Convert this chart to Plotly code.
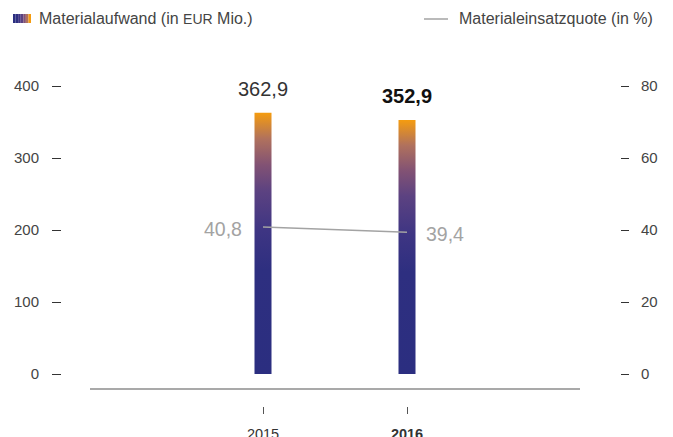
import plotly.graph_objects as go

years = ["2015", "2016"]
tick_labels = ["2015", "<b>2016</b>"]
aufwand = [362.9, 352.9]
quote = [40.8, 39.4]
aufwand_labels = ["362,9", "<b>352,9</b>"]
quote_labels = ["40,8", "39,4"]
left_ticks = [0, 100, 200, 300, 400]
right_ticks = [0, 20, 40, 60, 80]

W, H = 673, 437
OFF = 8  # page body margin


def SX(x):
    return (x - OFF) / W


def SY(y):
    return 1 - (y - OFF) / H


FONT = "Liberation Sans, Arial, sans-serif"
TXT = "#444444"
GRAY = "#a3a3a3"
grad = [[0, "#2b2e80"], [0.4, "#2e2f80"], [0.55, "#3e3583"], [0.7, "#5c4281"],
        [0.8, "#825274"], [0.9, "#b0715d"], [1, "#f59c0f"]]

half = 0.059
fig = go.Figure()
for i, v in enumerate(aufwand):
    fig.add_trace(go.Scatter(
        x=[i - half, i + half, i + half, i - half, i - half],
        y=[0, 0, v, v, 0],
        mode="lines", line=dict(width=0), fill="toself",
        fillgradient=dict(type="vertical", colorscale=grad, start=0, stop=v),
        hoverinfo="skip", showlegend=False, xaxis="x", yaxis="y"))

fig.add_trace(go.Scatter(x=list(range(len(years))), y=quote, mode="lines",
                         line=dict(color=GRAY, width=1.5), yaxis="y2",
                         showlegend=False, hoverinfo="skip"))

ann = []
for i, (v, t) in enumerate(zip(aufwand, aufwand_labels)):
    ann.append(dict(x=i, y=v, xref="x", yref="y", text=t, showarrow=False,
                    yshift=24, font=dict(size=20, color="#111111" if i else "#333333", family=FONT)))
ann.append(dict(x=0, y=quote[0], xref="x", yref="y2", text=quote_labels[0], showarrow=False,
                xanchor="right", xshift=-19, yshift=-2, font=dict(size=19.5, color=GRAY, family=FONT)))
ann.append(dict(x=1, y=quote[1], xref="x", yref="y2", text=quote_labels[1], showarrow=False,
                xanchor="left", xshift=17, yshift=-2, font=dict(size=19.5, color=GRAY, family=FONT)))
# legend texts
ann.append(dict(x=SX(37), y=SY(18), xref="paper", yref="paper", xanchor="left", yanchor="middle",
                text="Materialaufwand (in <span style='font-size:14px'>EUR</span> Mio.)", showarrow=False,
                font=dict(size=16, color=TXT, family=FONT)))
ann.append(dict(x=SX(457), y=SY(18), xref="paper", yref="paper", xanchor="left", yanchor="middle",
                text="Materialeinsatzquote (in %)", showarrow=False,
                font=dict(size=16, color=TXT, family=FONT)))

shapes = []
# legend swatch (horizontal gradient)
sw_cols = ["#2b2e80", "#2e2f80", "#3e3583", "#5c4281", "#825274", "#b0715d", "#f59c0f"]
x0, x1 = 13, 31
n = len(sw_cols)
for k, c in enumerate(sw_cols):
    a = x0 + (x1 - x0) * k / n
    b = x0 + (x1 - x0) * (k + 1) / n
    shapes.append(dict(type="rect", xref="paper", yref="paper", x0=SX(a), x1=SX(b),
                       y0=SY(23), y1=SY(14), fillcolor=c, line=dict(width=0)))
shapes.append(dict(type="line", xref="paper", yref="paper", x0=SX(424), x1=SX(448),
                   y0=SY(19), y1=SY(19), line=dict(color=GRAY, width=1.5)))
# baseline
shapes.append(dict(type="line", xref="paper", yref="paper", x0=SX(90), x1=SX(580),
                   y0=SY(389), y1=SY(389), line=dict(color="#555555", width=1.2)))

ydom = [SY(388.4), SY(86)]
fig.update_layout(
    width=W, height=H, template="none",
    margin=dict(l=0, r=0, t=0, b=0),
    paper_bgcolor="white", plot_bgcolor="white",
    showlegend=False,
    font=dict(family=FONT, color=TXT),
    xaxis=dict(domain=[SX(90), SX(580)], range=[-1.2014, 2.2014], anchor="free",
               position=SY(406), tickvals=list(range(len(years))), ticktext=tick_labels,
               ticks="outside", ticklen=7, tickcolor="#555555", tickwidth=1,
               showline=False, showgrid=False, zeroline=False, automargin=False,
               tickfont=dict(size=14.5, color="#333333"), ticklabelstandoff=8),
    yaxis=dict(domain=ydom, range=[-20, 400], anchor="free", position=SX(61), side="left",
               tickvals=left_ticks, ticks="outside", ticklen=9, tickcolor="#333333", tickwidth=1,
               showline=False, showgrid=False, zeroline=False, automargin=False,
               tickfont=dict(size=15, color=TXT), ticklabelstandoff=10),
    yaxis2=dict(domain=ydom, range=[-4, 80], anchor="free", position=SX(620), side="right",
                overlaying="y", tickvals=right_ticks, ticks="outside", ticklen=8,
                tickcolor="#333333", tickwidth=1, showline=False, showgrid=False,
                zeroline=False, automargin=False,
                tickfont=dict(size=15, color=TXT), ticklabelstandoff=9),
    annotations=ann, shapes=shapes,
)
fig.write_html("out.html")
